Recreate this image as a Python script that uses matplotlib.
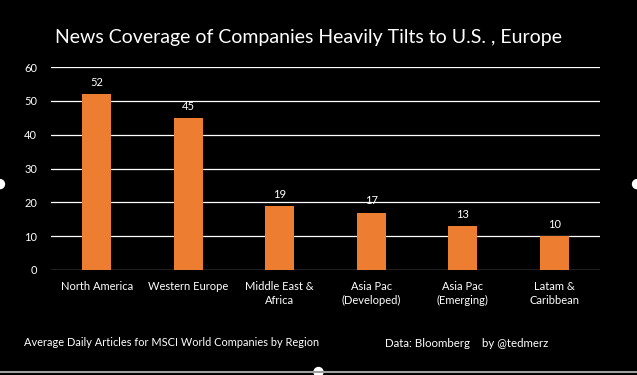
import numpy as np
import matplotlib.pyplot as plt
from matplotlib.patches import Ellipse
from matplotlib.lines import Line2D

regions = ["North America", "Western Europe", "Middle East &\nAfrica",
           "Asia Pac\n(Developed)", "Asia Pac\n(Emerging)", "Latam &\nCaribbean"]
articles = [52, 45, 19, 17, 13, 10]
y_ticks = [0, 10, 20, 30, 40, 50, 60]

plt.rcParams['font.family'] = ['Lato', 'DejaVu Sans']

fig = plt.figure(figsize=(6.37, 3.75), dpi=100, facecolor="black")
ax = fig.add_axes([0.080, 0.28, 0.862, 0.541], facecolor="black")

x = np.arange(len(regions))
bars = ax.bar(x, articles, width=0.32, color="#ED7D31", zorder=3)
for xi, v in zip(x, articles):
    ax.text(xi, v + 1.8, str(v), ha="center", va="bottom", color="white", fontsize=8)

ax.set_xlim(-0.5, len(regions) - 0.5)
ax.set_ylim(0, 60)
ax.set_yticks(y_ticks)
ax.yaxis.grid(True, color="white", lw=0.9, zorder=0)
ax.set_xticks(x)
ax.set_xticklabels(regions, color="white", fontsize=8, linespacing=1.3)
ax.tick_params(axis="y", colors="white", labelsize=8, length=0, pad=10)
ax.tick_params(axis="x", length=0, pad=8)
for s in ax.spines.values():
    s.set_visible(False)

fig.text(0.485, 0.900, "News Coverage of Companies Heavily Tilts to U.S. , Europe",
         ha="center", va="center", color="white", fontsize=14)
fig.text(0.037, 0.087, "Average Daily Articles for MSCI World Companies by Region",
         ha="left", va="center", color="white", fontsize=7.9)
fig.text(0.604, 0.084, "Data: Bloomberg    by @tedmerz",
         ha="left", va="center", color="white", fontsize=8.3)

# frame edge and selection handles
fig.add_artist(Line2D([0, 1], [0.008, 0.008], color="#a0a0a0", lw=1.5, transform=fig.transFigure))
for hx, hy in [(0.0, 0.509), (1.0, 0.509), (0.5, 0.008)]:
    fig.add_artist(Ellipse((hx, hy), 0.014, 0.024, color="white", transform=fig.transFigure))

fig.savefig("out.png", dpi=100, facecolor="black")
